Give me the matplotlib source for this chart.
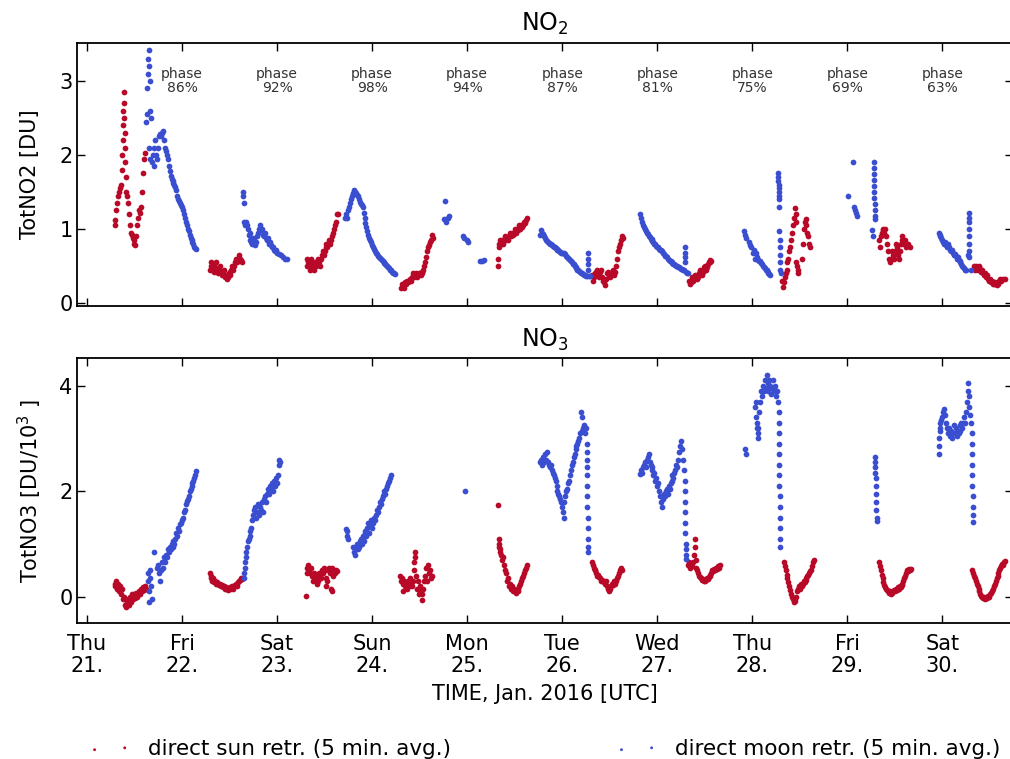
import matplotlib
matplotlib.use("Agg")
import matplotlib.pyplot as plt

#%% data (time in days of Jan. 2016, value)
days = [21, 22, 23, 24, 25, 26, 27, 28, 29, 30]
day_labels = ['Thu\n21.', 'Fri\n22.', 'Sat\n23.', 'Sun\n24.', 'Mon\n25.',
              'Tue\n26.', 'Wed\n27.', 'Thu\n28.', 'Fri\n29.', 'Sat\n30.']
phase_days = [22, 23, 24, 25, 26, 27, 28, 29, 30]
phase_pct = [86, 92, 98, 94, 87, 81, 75, 69, 63]

no2_sun = [
    (21.29, 1.05), (21.30, 1.12), (21.31, 1.25), (21.32, 1.35), (21.33, 1.45), (21.34, 1.50),
    (21.35, 1.55), (21.36, 1.60), (21.37, 1.80), (21.37, 2.00), (21.38, 2.20), (21.38, 2.40),
    (21.38, 2.60), (21.39, 2.85), (21.39, 2.70), (21.39, 2.50), (21.40, 2.30), (21.40, 2.10),
    (21.40, 1.90), (21.41, 1.70), (21.41, 1.50), (21.42, 1.45), (21.43, 1.35), (21.44, 1.20),
    (21.45, 1.05), (21.46, 0.95), (21.47, 0.92), (21.48, 0.88), (21.49, 0.85), (21.50, 0.80),
    (21.51, 0.78), (21.52, 0.90), (21.53, 1.05), (21.54, 1.15), (21.55, 1.25), (21.56, 1.22),
    (21.57, 1.30), (21.58, 1.50), (21.59, 1.75), (21.60, 1.95), (21.61, 2.02),
    (22.29, 0.45), (22.30, 0.55), (22.31, 0.50), (22.32, 0.45), (22.33, 0.50), (22.34, 0.42),
    (22.35, 0.48), (22.36, 0.55), (22.37, 0.45), (22.38, 0.40), (22.39, 0.45), (22.40, 0.50),
    (22.41, 0.42), (22.42, 0.38), (22.43, 0.40), (22.44, 0.45), (22.45, 0.35), (22.46, 0.38),
    (22.47, 0.33), (22.48, 0.35), (22.49, 0.40), (22.50, 0.38), (22.51, 0.42), (22.52, 0.45),
    (22.53, 0.50), (22.54, 0.45), (22.55, 0.50), (22.56, 0.55), (22.57, 0.60), (22.58, 0.55),
    (22.59, 0.60), (22.60, 0.65), (22.61, 0.60), (22.62, 0.58), (22.63, 0.55),
    (23.31, 0.50), (23.32, 0.60), (23.33, 0.55), (23.34, 0.50), (23.35, 0.45), (23.36, 0.60),
    (23.37, 0.55), (23.38, 0.50), (23.39, 0.45), (23.40, 0.55), (23.41, 0.50), (23.42, 0.55),
    (23.43, 0.60), (23.44, 0.55), (23.45, 0.50), (23.46, 0.60), (23.47, 0.65), (23.48, 0.70),
    (23.49, 0.65), (23.50, 0.70), (23.51, 0.75), (23.52, 0.80), (23.53, 0.75), (23.54, 0.80),
    (23.55, 0.85), (23.56, 0.80), (23.57, 0.85), (23.58, 0.90), (23.59, 0.95), (23.60, 1.00),
    (23.61, 1.05), (23.62, 1.10), (23.63, 1.20), (23.64, 1.20),
    (24.30, 0.20), (24.31, 0.25), (24.32, 0.22), (24.33, 0.25), (24.34, 0.20), (24.35, 0.28),
    (24.36, 0.25), (24.37, 0.30), (24.38, 0.28), (24.39, 0.30), (24.40, 0.32), (24.41, 0.30),
    (24.42, 0.35), (24.43, 0.40), (24.44, 0.35), (24.45, 0.38), (24.46, 0.40), (24.47, 0.35),
    (24.48, 0.38), (24.49, 0.40), (24.50, 0.40), (24.51, 0.38), (24.52, 0.42), (24.53, 0.40),
    (24.54, 0.45), (24.55, 0.50), (24.56, 0.55), (24.57, 0.62), (24.58, 0.70), (24.59, 0.75),
    (24.60, 0.78), (24.61, 0.82), (24.62, 0.85), (24.63, 0.92), (24.64, 0.88),
    (25.32, 0.50), (25.32, 0.60), (25.33, 0.75), (25.34, 0.80), (25.35, 0.85), (25.36, 0.80),
    (25.37, 0.85), (25.38, 0.80), (25.39, 0.85), (25.40, 0.90), (25.41, 0.85), (25.42, 0.88),
    (25.43, 0.85), (25.44, 0.90), (25.45, 0.95), (25.46, 0.90), (25.47, 0.95), (25.48, 0.92),
    (25.49, 0.95), (25.50, 1.00), (25.51, 0.95), (25.52, 1.00), (25.53, 0.98), (25.54, 1.00),
    (25.55, 1.05), (25.56, 1.00), (25.57, 1.05), (25.58, 1.02), (25.59, 1.05), (25.60, 1.10),
    (25.61, 1.08), (25.62, 1.12), (25.63, 1.15),
    (26.31, 0.38), (26.32, 0.30), (26.33, 0.35), (26.34, 0.40), (26.35, 0.38), (26.36, 0.42),
    (26.37, 0.45), (26.38, 0.40), (26.39, 0.35), (26.40, 0.42), (26.41, 0.45), (26.42, 0.35),
    (26.43, 0.30), (26.44, 0.28), (26.45, 0.24), (26.46, 0.32), (26.47, 0.40), (26.48, 0.42),
    (26.49, 0.38), (26.50, 0.35), (26.51, 0.38), (26.52, 0.42), (26.53, 0.45), (26.54, 0.40),
    (26.55, 0.38), (26.56, 0.42), (26.57, 0.50), (26.58, 0.60), (26.59, 0.70), (26.60, 0.75),
    (26.61, 0.80), (26.62, 0.85), (26.63, 0.90), (26.64, 0.88),
    (27.33, 0.30), (27.34, 0.25), (27.35, 0.28), (27.36, 0.30), (27.37, 0.35), (27.38, 0.30),
    (27.39, 0.33), (27.40, 0.38), (27.41, 0.35), (27.42, 0.32), (27.43, 0.35), (27.44, 0.40),
    (27.45, 0.45), (27.46, 0.40), (27.47, 0.38), (27.48, 0.42), (27.49, 0.48), (27.50, 0.50),
    (27.51, 0.45), (27.52, 0.48), (27.53, 0.52), (27.54, 0.55), (27.55, 0.58), (27.56, 0.55),
    (27.57, 0.57),
    (28.31, 0.30), (28.32, 0.22), (28.33, 0.28), (28.34, 0.35), (28.35, 0.40), (28.36, 0.45),
    (28.37, 0.55), (28.38, 0.60), (28.39, 0.70), (28.40, 0.75), (28.41, 0.85), (28.42, 0.95),
    (28.43, 1.05), (28.44, 1.15), (28.45, 1.28), (28.46, 1.20), (28.46, 1.10), (28.465, 0.55),
    (28.47, 0.50), (28.48, 0.45), (28.485, 0.40), (28.52, 0.60), (28.53, 0.80), (28.54, 1.00),
    (28.55, 1.10), (28.56, 1.13), (28.57, 1.05), (28.58, 0.95), (28.59, 0.90), (28.60, 0.80),
    (28.61, 0.75),
    (29.33, 0.85), (29.34, 0.75), (29.35, 0.90), (29.36, 0.95), (29.37, 1.00), (29.38, 0.98),
    (29.39, 0.95), (29.40, 1.00), (29.41, 0.90), (29.42, 0.80), (29.43, 0.70), (29.44, 0.60),
    (29.45, 0.55), (29.46, 0.60), (29.47, 0.70), (29.48, 0.65), (29.49, 0.60), (29.50, 0.70),
    (29.51, 0.80), (29.52, 0.75), (29.53, 0.65), (29.54, 0.60), (29.55, 0.70), (29.56, 0.80),
    (29.57, 0.85), (29.58, 0.90), (29.59, 0.85), (29.60, 0.80), (29.61, 0.85), (29.62, 0.75),
    (29.64, 0.80), (29.66, 0.75),
    (30.33, 0.50), (30.34, 0.45), (30.35, 0.50), (30.36, 0.48), (30.37, 0.45), (30.38, 0.50),
    (30.39, 0.48), (30.40, 0.45), (30.41, 0.42), (30.42, 0.45), (30.43, 0.40), (30.44, 0.38),
    (30.45, 0.40), (30.46, 0.35), (30.47, 0.38), (30.48, 0.33), (30.49, 0.30), (30.50, 0.32),
    (30.51, 0.28), (30.52, 0.30), (30.53, 0.26), (30.54, 0.25), (30.55, 0.28), (30.56, 0.25),
    (30.57, 0.24), (30.58, 0.26), (30.59, 0.28), (30.60, 0.30), (30.61, 0.32), (30.62, 0.30),
    (30.64, 0.33), (30.66, 0.32),
]

no2_moon = [
    (21.62, 2.45), (21.63, 2.55), (21.63, 2.90), (21.64, 3.10), (21.64, 3.30), (21.65, 3.42),
    (21.65, 3.20), (21.66, 3.00), (21.66, 2.60), (21.67, 2.50), (21.65, 2.10), (21.66, 1.95),
    (21.68, 1.90), (21.69, 2.00), (21.70, 1.85), (21.71, 2.10), (21.72, 2.20), (21.73, 2.00),
    (21.74, 1.95), (21.75, 2.10), (21.76, 2.25), (21.77, 2.28), (21.78, 2.25), (21.79, 2.30),
    (21.80, 2.32), (21.81, 2.20), (21.82, 2.10), (21.83, 2.05), (21.84, 2.00), (21.85, 1.95),
    (21.86, 1.85), (21.87, 1.78), (21.88, 1.72), (21.89, 1.68), (21.90, 1.65), (21.91, 1.62),
    (21.92, 1.60), (21.93, 1.57), (21.94, 1.52), (21.95, 1.45), (21.96, 1.40), (21.97, 1.38),
    (21.98, 1.35), (21.99, 1.32), (22.00, 1.30), (22.01, 1.25), (22.02, 1.20), (22.03, 1.15),
    (22.04, 1.10), (22.05, 1.05), (22.06, 1.00), (22.07, 0.97), (22.08, 0.92), (22.09, 0.88),
    (22.10, 0.85), (22.11, 0.82), (22.12, 0.79), (22.13, 0.76), (22.14, 0.74), (22.15, 0.73),
    (22.64, 1.45), (22.645, 1.50), (22.65, 1.35), (22.65, 1.10), (22.66, 1.05), (22.67, 1.10),
    (22.68, 1.05), (22.69, 1.00), (22.70, 0.92), (22.71, 0.95), (22.72, 0.85), (22.73, 0.82),
    (22.74, 0.80), (22.75, 0.88), (22.76, 0.85), (22.77, 0.78), (22.78, 0.82), (22.79, 0.90),
    (22.80, 0.95), (22.81, 1.00), (22.82, 1.05), (22.83, 0.98), (22.84, 1.00), (22.85, 0.92),
    (22.86, 0.90), (22.87, 0.95), (22.88, 0.88), (22.89, 0.85), (22.90, 0.88), (22.91, 0.82),
    (22.92, 0.80), (22.93, 0.82), (22.94, 0.78), (22.95, 0.75), (22.96, 0.76), (22.97, 0.72),
    (22.98, 0.70), (22.99, 0.71), (23.00, 0.68), (23.02, 0.66), (23.04, 0.65), (23.06, 0.62),
    (23.08, 0.60), (23.10, 0.59),
    (23.72, 1.15), (23.73, 1.20), (23.74, 1.15), (23.75, 1.25), (23.76, 1.30), (23.77, 1.35),
    (23.78, 1.40), (23.79, 1.45), (23.80, 1.48), (23.81, 1.52), (23.82, 1.50), (23.83, 1.48),
    (23.84, 1.46), (23.85, 1.44), (23.86, 1.40), (23.87, 1.36), (23.88, 1.34), (23.89, 1.32),
    (23.90, 1.30), (23.91, 1.22), (23.92, 1.15), (23.93, 1.08), (23.94, 1.02), (23.95, 0.97),
    (23.96, 0.92), (23.97, 0.88), (23.98, 0.85), (23.99, 0.82), (24.00, 0.78), (24.01, 0.75),
    (24.02, 0.73), (24.03, 0.70), (24.04, 0.68), (24.05, 0.66), (24.06, 0.64), (24.07, 0.62),
    (24.08, 0.61), (24.09, 0.60), (24.10, 0.58), (24.11, 0.56), (24.12, 0.55), (24.13, 0.54),
    (24.14, 0.53), (24.15, 0.51), (24.16, 0.50), (24.17, 0.48), (24.18, 0.47), (24.19, 0.45),
    (24.20, 0.44), (24.21, 0.42), (24.22, 0.41), (24.23, 0.40), (24.24, 0.39),
    (24.77, 1.38), (24.76, 1.13), (24.78, 1.10), (24.80, 1.15), (24.81, 1.18), (24.96, 0.90),
    (24.97, 0.88), (25.00, 0.85), (25.01, 0.83), (25.14, 0.56), (25.16, 0.57), (25.18, 0.58),
    (25.77, 0.92), (25.78, 0.98), (25.79, 0.95), (25.80, 0.93), (25.81, 0.90), (25.82, 0.88),
    (25.83, 0.85), (25.84, 0.84), (25.85, 0.82), (25.86, 0.81), (25.87, 0.80), (25.88, 0.79),
    (25.89, 0.78), (25.90, 0.77), (25.91, 0.76), (25.92, 0.75), (25.93, 0.74), (25.94, 0.73),
    (25.95, 0.72), (25.96, 0.71), (25.97, 0.70), (25.98, 0.69), (25.99, 0.68), (26.00, 0.68),
    (26.01, 0.67), (26.02, 0.67), (26.03, 0.66), (26.04, 0.64), (26.05, 0.62), (26.06, 0.61),
    (26.07, 0.60), (26.08, 0.58), (26.09, 0.56), (26.10, 0.55), (26.11, 0.53), (26.12, 0.52),
    (26.13, 0.50), (26.14, 0.48), (26.15, 0.47), (26.16, 0.45), (26.17, 0.44), (26.18, 0.43),
    (26.19, 0.42), (26.20, 0.41), (26.21, 0.40), (26.22, 0.39), (26.23, 0.38), (26.24, 0.38),
    (26.25, 0.37), (26.26, 0.36), (26.27, 0.45), (26.27, 0.52), (26.27, 0.60), (26.27, 0.68),
    (26.28, 0.36), (26.29, 0.37),
    (26.82, 1.20), (26.83, 1.15), (26.84, 1.10), (26.85, 1.05), (26.86, 1.02), (26.87, 1.00),
    (26.88, 0.97), (26.89, 0.95), (26.90, 0.93), (26.91, 0.91), (26.92, 0.89), (26.93, 0.87),
    (26.94, 0.86), (26.95, 0.84), (26.96, 0.82), (26.97, 0.80), (26.98, 0.79), (26.99, 0.77),
    (27.00, 0.76), (27.01, 0.75), (27.02, 0.73), (27.03, 0.72), (27.04, 0.71), (27.05, 0.70),
    (27.06, 0.68), (27.07, 0.66), (27.08, 0.64), (27.09, 0.63), (27.10, 0.62), (27.11, 0.60),
    (27.12, 0.58), (27.13, 0.57), (27.14, 0.56), (27.15, 0.55), (27.16, 0.54), (27.17, 0.53),
    (27.18, 0.52), (27.19, 0.51), (27.20, 0.50), (27.21, 0.50), (27.22, 0.49), (27.23, 0.48),
    (27.24, 0.47), (27.25, 0.46), (27.26, 0.46), (27.27, 0.45), (27.28, 0.44), (27.29, 0.55),
    (27.29, 0.62), (27.29, 0.68), (27.29, 0.75), (27.30, 0.42), (27.31, 0.40), (27.32, 0.41),
    (27.91, 0.97), (27.92, 0.92), (27.93, 0.88), (27.97, 0.82), (27.98, 0.78), (27.99, 0.75),
    (28.01, 0.68), (28.02, 0.72), (28.03, 0.60), (28.04, 0.68), (28.05, 0.62), (28.06, 0.58),
    (28.07, 0.57), (28.08, 0.56), (28.09, 0.54), (28.10, 0.52), (28.11, 0.50), (28.12, 0.48),
    (28.13, 0.47), (28.14, 0.45), (28.15, 0.44), (28.16, 0.42), (28.17, 0.40), (28.18, 0.39),
    (28.19, 0.38), (28.275, 1.75), (28.275, 1.70), (28.275, 1.65), (28.28, 1.60), (28.28, 1.55),
    (28.28, 1.50), (28.28, 1.45), (28.28, 1.40), (28.28, 1.30), (28.285, 0.97), (28.29, 0.85),
    (28.29, 0.75), (28.29, 0.65), (28.29, 0.55), (28.295, 0.45), (28.30, 0.40),
    (29.01, 1.45), (29.06, 1.90), (29.07, 1.30), (29.08, 1.25), (29.09, 1.22), (29.10, 1.18),
    (29.26, 0.98), (29.265, 0.90), (29.28, 1.90), (29.28, 1.82), (29.28, 1.74), (29.28, 1.66),
    (29.285, 1.58), (29.285, 1.50), (29.285, 1.42), (29.29, 1.34), (29.29, 1.26), (29.29, 1.18),
    (29.29, 1.13),
    (29.96, 0.95), (29.97, 0.92), (29.98, 0.90), (29.99, 0.88), (30.00, 0.85), (30.01, 0.83),
    (30.02, 0.80), (30.03, 0.82), (30.04, 0.78), (30.05, 0.75), (30.06, 0.80), (30.07, 0.76),
    (30.08, 0.72), (30.09, 0.70), (30.10, 0.72), (30.11, 0.68), (30.12, 0.65), (30.13, 0.66),
    (30.14, 0.63), (30.15, 0.60), (30.16, 0.62), (30.17, 0.58), (30.18, 0.56), (30.19, 0.55),
    (30.20, 0.52), (30.21, 0.50), (30.22, 0.48), (30.23, 0.47), (30.24, 0.45), (30.25, 0.44),
    (30.27, 0.65), (30.28, 1.22), (30.28, 1.15), (30.28, 1.10), (30.28, 1.00), (30.285, 0.90),
    (30.285, 0.80), (30.285, 0.70), (30.285, 0.62), (30.30, 0.45),
]

no3_sun = [
    (21.29, 0.25), (21.30, 0.20), (21.31, 0.30), (21.32, 0.15), (21.33, 0.25), (21.34, 0.10),
    (21.35, 0.20), (21.36, 0.05), (21.37, 0.15), (21.38, -0.05), (21.39, 0.00), (21.40, -0.15),
    (21.41, -0.20), (21.42, -0.10), (21.43, -0.05), (21.44, -0.15), (21.45, 0.00), (21.46, -0.10),
    (21.47, 0.05), (21.48, -0.05), (21.49, 0.00), (21.50, 0.05), (21.51, -0.02), (21.52, 0.08),
    (21.53, 0.00), (21.54, 0.05), (21.55, 0.10), (21.56, 0.05), (21.57, 0.15), (21.58, 0.10),
    (21.59, 0.18), (21.60, 0.12), (21.61, 0.20), (21.62, 0.15),
    (22.29, 0.45), (22.30, 0.40), (22.31, 0.35), (22.32, 0.30), (22.33, 0.35), (22.34, 0.28),
    (22.35, 0.30), (22.36, 0.25), (22.37, 0.28), (22.38, 0.25), (22.39, 0.22), (22.40, 0.25),
    (22.41, 0.20), (22.42, 0.22), (22.43, 0.18), (22.44, 0.20), (22.45, 0.15), (22.46, 0.18),
    (22.47, 0.15), (22.48, 0.12), (22.49, 0.15), (22.50, 0.18), (22.51, 0.15), (22.52, 0.18),
    (22.53, 0.20), (22.54, 0.15), (22.55, 0.20), (22.56, 0.22), (22.57, 0.25), (22.58, 0.20),
    (22.59, 0.28), (22.60, 0.30), (22.61, 0.32), (22.62, 0.35), (22.63, 0.33),
    (23.30, 0.02), (23.31, 0.45), (23.32, 0.55), (23.33, 0.60), (23.34, 0.50), (23.35, 0.45),
    (23.36, 0.55), (23.37, 0.40), (23.38, 0.30), (23.39, 0.45), (23.40, 0.35), (23.41, 0.40),
    (23.42, 0.25), (23.43, 0.30), (23.44, 0.45), (23.45, 0.40), (23.46, 0.35), (23.47, 0.50),
    (23.48, 0.45), (23.49, 0.55), (23.50, 0.50), (23.51, 0.35), (23.52, 0.20), (23.53, 0.30),
    (23.54, 0.50), (23.55, 0.55), (23.56, 0.45), (23.57, 0.15), (23.575, 0.10), (23.58, 0.55),
    (23.59, 0.40), (23.60, 0.50), (23.61, 0.45), (23.62, 0.50), (23.63, 0.48),
    (24.29, 0.40), (24.30, 0.30), (24.31, 0.35), (24.32, 0.25), (24.33, 0.10), (24.34, 0.30),
    (24.35, 0.20), (24.36, 0.25), (24.37, 0.15), (24.38, 0.30), (24.39, 0.20), (24.40, 0.35),
    (24.41, 0.25), (24.42, 0.20), (24.43, 0.30), (24.44, 0.50), (24.445, 0.65), (24.45, 0.85),
    (24.455, 0.75), (24.46, 0.40), (24.47, 0.15), (24.48, 0.30), (24.49, 0.05), (24.50, 0.20),
    (24.51, 0.10), (24.52, 0.05), (24.53, -0.06), (24.54, 0.15), (24.55, 0.30), (24.56, 0.40),
    (24.57, 0.55), (24.58, 0.30), (24.59, 0.60), (24.60, 0.45), (24.61, 0.50), (24.62, 0.35),
    (24.63, 0.40),
    (25.32, 1.74), (25.33, 1.10), (25.335, 1.00), (25.34, 0.95), (25.345, 0.90), (25.35, 0.85),
    (25.36, 0.80), (25.37, 0.70), (25.38, 0.75), (25.39, 0.60), (25.40, 0.50), (25.41, 0.45),
    (25.42, 0.30), (25.43, 0.35), (25.44, 0.20), (25.45, 0.25), (25.46, 0.15), (25.47, 0.20),
    (25.48, 0.10), (25.49, 0.15), (25.50, 0.10), (25.51, 0.08), (25.52, 0.12), (25.53, 0.10),
    (25.54, 0.15), (25.55, 0.20), (25.56, 0.25), (25.57, 0.30), (25.58, 0.35), (25.59, 0.40),
    (25.60, 0.45), (25.61, 0.50), (25.62, 0.55), (25.63, 0.60),
    (26.31, 0.65), (26.32, 0.60), (26.33, 0.55), (26.34, 0.50), (26.35, 0.50), (26.36, 0.45),
    (26.37, 0.40), (26.38, 0.42), (26.39, 0.38), (26.40, 0.35), (26.41, 0.30), (26.42, 0.32),
    (26.43, 0.30), (26.44, 0.28), (26.45, 0.25), (26.46, 0.30), (26.47, 0.20), (26.48, 0.15),
    (26.49, 0.10), (26.50, 0.15), (26.51, 0.20), (26.52, 0.25), (26.53, 0.22), (26.54, 0.28),
    (26.55, 0.30), (26.56, 0.25), (26.57, 0.30), (26.58, 0.35), (26.59, 0.40), (26.60, 0.45),
    (26.61, 0.50), (26.62, 0.55), (26.63, 0.50),
    (27.32, 0.60), (27.33, 0.65), (27.34, 0.55), (27.35, 0.60), (27.36, 0.62), (27.37, 0.58),
    (27.38, 0.65), (27.39, 0.80), (27.40, 1.10), (27.40, 0.95), (27.405, 0.70), (27.41, 0.55),
    (27.42, 0.50), (27.43, 0.45), (27.44, 0.40), (27.45, 0.38), (27.46, 0.35), (27.47, 0.32),
    (27.48, 0.33), (27.49, 0.30), (27.50, 0.30), (27.51, 0.32), (27.52, 0.35), (27.53, 0.33),
    (27.54, 0.38), (27.55, 0.40), (27.56, 0.42), (27.57, 0.45), (27.58, 0.50), (27.59, 0.48),
    (27.60, 0.52), (27.61, 0.50), (27.62, 0.55), (27.63, 0.52), (27.64, 0.58), (27.65, 0.55),
    (27.66, 0.60),
    (28.33, 0.65), (28.34, 0.58), (28.35, 0.50), (28.36, 0.42), (28.37, 0.35), (28.38, 0.28),
    (28.39, 0.20), (28.40, 0.12), (28.41, 0.05), (28.42, 0.00), (28.43, -0.05), (28.44, -0.10),
    (28.45, -0.08), (28.46, 0.00), (28.47, 0.10), (28.48, 0.15), (28.49, 0.20), (28.50, 0.15),
    (28.51, 0.25), (28.52, 0.20), (28.53, 0.25), (28.54, 0.30), (28.55, 0.28), (28.56, 0.32),
    (28.57, 0.35), (28.58, 0.40), (28.59, 0.42), (28.60, 0.45), (28.61, 0.48), (28.62, 0.50),
    (28.63, 0.58), (28.64, 0.65), (28.65, 0.70),
    (29.33, 0.65), (29.34, 0.58), (29.35, 0.50), (29.36, 0.42), (29.37, 0.35), (29.38, 0.28),
    (29.39, 0.22), (29.40, 0.18), (29.41, 0.15), (29.42, 0.12), (29.43, 0.10), (29.44, 0.08),
    (29.45, 0.10), (29.46, 0.05), (29.47, 0.08), (29.48, 0.10), (29.49, 0.12), (29.50, 0.10),
    (29.51, 0.15), (29.52, 0.12), (29.53, 0.18), (29.54, 0.15), (29.55, 0.20), (29.56, 0.18),
    (29.57, 0.22), (29.58, 0.25), (29.59, 0.30), (29.60, 0.35), (29.61, 0.40), (29.62, 0.45),
    (29.63, 0.50), (29.64, 0.48), (29.65, 0.52), (29.66, 0.50), (29.67, 0.53),
    (30.31, 0.50), (30.32, 0.45), (30.33, 0.40), (30.34, 0.35), (30.35, 0.30), (30.36, 0.25),
    (30.37, 0.20), (30.38, 0.15), (30.39, 0.10), (30.40, 0.05), (30.41, 0.02), (30.42, 0.00),
    (30.43, -0.02), (30.44, 0.00), (30.45, -0.04), (30.46, 0.00), (30.47, -0.02), (30.48, 0.02),
    (30.49, 0.00), (30.50, 0.05), (30.51, 0.08), (30.52, 0.10), (30.53, 0.15), (30.54, 0.20),
    (30.55, 0.25), (30.56, 0.30), (30.57, 0.35), (30.58, 0.40), (30.59, 0.45), (30.60, 0.50),
    (30.61, 0.55), (30.62, 0.58), (30.63, 0.62), (30.64, 0.60), (30.65, 0.65), (30.66, 0.68),
]

no3_moon = [
    (21.64, 0.30), (21.645, 0.45), (21.65, 0.10), (21.655, -0.10), (21.66, 0.50), (21.665, 0.35),
    (21.67, 0.20), (21.68, -0.05), (21.71, 0.85), (21.74, 0.55), (21.75, 0.60), (21.76, 0.45),
    (21.77, 0.30), (21.78, 0.50), (21.79, 0.65), (21.80, 0.55), (21.81, 0.75), (21.82, 0.65),
    (21.83, 0.80), (21.84, 0.75), (21.85, 0.90), (21.86, 0.85), (21.87, 0.95), (21.88, 0.90),
    (21.89, 1.00), (21.90, 0.95), (21.91, 1.05), (21.92, 1.00), (21.93, 1.10), (21.94, 1.20),
    (21.95, 1.15), (21.96, 1.30), (21.97, 1.25), (21.98, 1.38), (21.99, 1.40), (22.00, 1.45),
    (22.01, 1.50), (22.02, 1.60), (22.03, 1.65), (22.04, 1.75), (22.05, 1.82), (22.06, 1.85),
    (22.07, 1.90), (22.08, 2.00), (22.09, 2.05), (22.10, 2.10), (22.11, 2.15), (22.12, 2.20),
    (22.13, 2.25), (22.14, 2.30), (22.15, 2.38),
    (22.65, 0.35), (22.655, 0.45), (22.66, 0.55), (22.665, 0.65), (22.67, 0.75), (22.675, 0.85),
    (22.68, 0.95), (22.69, 1.05), (22.70, 1.10), (22.71, 1.15), (22.72, 1.25), (22.73, 1.30),
    (22.74, 1.45), (22.75, 1.55), (22.76, 1.65), (22.77, 1.70), (22.78, 1.50), (22.79, 1.60),
    (22.80, 1.75), (22.81, 1.55), (22.82, 1.70), (22.83, 1.65), (22.84, 1.80), (22.85, 1.60),
    (22.86, 1.85), (22.87, 1.90), (22.88, 1.80), (22.89, 1.95), (22.90, 2.05), (22.91, 1.95),
    (22.92, 2.00), (22.93, 2.10), (22.94, 2.05), (22.95, 2.15), (22.96, 2.00), (22.97, 2.20),
    (22.98, 2.10), (22.99, 2.25), (23.00, 2.15), (23.01, 2.30), (23.02, 2.50), (23.025, 2.60),
    (23.03, 2.55),
    (23.73, 1.29), (23.735, 1.25), (23.74, 1.15), (23.75, 1.10), (23.80, 0.95), (23.81, 0.85),
    (23.82, 0.80), (23.83, 0.90), (23.84, 1.00), (23.85, 0.90), (23.86, 0.95), (23.87, 1.05),
    (23.88, 1.10), (23.89, 1.00), (23.90, 1.15), (23.91, 1.05), (23.92, 1.20), (23.93, 1.25),
    (23.94, 1.15), (23.95, 1.30), (23.96, 1.40), (23.97, 1.20), (23.98, 1.35), (23.99, 1.45),
    (24.00, 1.30), (24.01, 1.40), (24.02, 1.50), (24.03, 1.45), (24.04, 1.55), (24.05, 1.65),
    (24.06, 1.60), (24.07, 1.70), (24.08, 1.80), (24.09, 1.75), (24.10, 1.85), (24.11, 1.90),
    (24.12, 1.95), (24.13, 2.00), (24.14, 1.95), (24.15, 2.05), (24.16, 2.10), (24.17, 2.15),
    (24.18, 2.20), (24.19, 2.25), (24.20, 2.30),
    (24.98, 2.01),
    (25.77, 2.55), (25.78, 2.60), (25.79, 2.50), (25.80, 2.65), (25.81, 2.55), (25.82, 2.70),
    (25.83, 2.60), (25.84, 2.75), (25.85, 2.55), (25.86, 2.50), (25.87, 2.45), (25.88, 2.50),
    (25.89, 2.40), (25.90, 2.35), (25.91, 2.30), (25.92, 2.25), (25.93, 2.20), (25.94, 2.10),
    (25.95, 2.00), (25.96, 1.95), (25.97, 1.90), (25.98, 1.85), (25.99, 1.80), (26.00, 1.70),
    (26.01, 1.60), (26.015, 1.50), (26.02, 1.80), (26.03, 1.90), (26.04, 2.00), (26.05, 2.05),
    (26.06, 2.15), (26.07, 2.20), (26.08, 2.30), (26.09, 2.40), (26.10, 2.50), (26.11, 2.55),
    (26.12, 2.65), (26.13, 2.70), (26.14, 2.80), (26.15, 2.85), (26.16, 2.90), (26.17, 2.95),
    (26.18, 3.00), (26.19, 3.10), (26.20, 3.50), (26.205, 3.40), (26.21, 3.15), (26.22, 3.20),
    (26.23, 3.25), (26.24, 3.10), (26.25, 3.20), (26.26, 2.90), (26.26, 2.75), (26.26, 2.60),
    (26.26, 2.45), (26.26, 2.30), (26.265, 2.10), (26.265, 1.90), (26.265, 1.70), (26.27, 1.50),
    (26.27, 1.30), (26.27, 1.10), (26.27, 0.95), (26.27, 0.85),
    (26.82, 2.33), (26.83, 2.40), (26.84, 2.35), (26.85, 2.45), (26.86, 2.50), (26.87, 2.55),
    (26.88, 2.45), (26.89, 2.60), (26.90, 2.65), (26.91, 2.70), (26.92, 2.55), (26.93, 2.50),
    (26.94, 2.40), (26.95, 2.45), (26.96, 2.30), (26.97, 2.35), (26.98, 2.20), (26.99, 2.25),
    (27.00, 2.10), (27.01, 2.15), (27.02, 2.00), (27.03, 1.90), (27.04, 1.80), (27.05, 1.70),
    (27.06, 1.85), (27.07, 1.95), (27.08, 1.90), (27.09, 2.00), (27.10, 2.05), (27.11, 1.95),
    (27.12, 2.10), (27.13, 2.05), (27.14, 2.15), (27.15, 2.20), (27.16, 2.30), (27.17, 2.25),
    (27.18, 2.35), (27.19, 2.40), (27.20, 2.50), (27.21, 2.45), (27.22, 2.60), (27.23, 2.75),
    (27.24, 2.85), (27.25, 2.95), (27.26, 2.80), (27.27, 2.60), (27.28, 2.40), (27.29, 2.20),
    (27.29, 2.00), (27.29, 1.80), (27.295, 1.60), (27.295, 1.40), (27.295, 1.20), (27.30, 1.00),
    (27.30, 0.90), (27.30, 0.80), (27.305, 0.72),
    (27.925, 2.80), (27.93, 2.70), (28.03, 3.60), (28.035, 3.70), (28.04, 3.40), (28.045, 3.20),
    (28.05, 3.30), (28.055, 3.10), (28.06, 3.00), (28.065, 3.20), (28.07, 3.50), (28.08, 3.70),
    (28.09, 3.90), (28.10, 3.80), (28.11, 4.00), (28.12, 3.90), (28.13, 4.10), (28.14, 3.95),
    (28.15, 4.20), (28.16, 4.05), (28.17, 3.90), (28.18, 4.10), (28.19, 4.00), (28.20, 3.85),
    (28.21, 3.95), (28.22, 4.10), (28.23, 3.90), (28.24, 4.00), (28.25, 3.80), (28.26, 3.90),
    (28.27, 3.70), (28.28, 3.50), (28.28, 3.30), (28.28, 3.10), (28.28, 2.90), (28.285, 2.70),
    (28.285, 2.50), (28.285, 2.30), (28.285, 2.10), (28.29, 1.90), (28.29, 1.70), (28.29, 1.50),
    (28.29, 1.30), (28.295, 1.10), (28.295, 0.95),
    (29.29, 2.65), (29.29, 2.55), (29.295, 2.45), (29.295, 2.35), (29.30, 2.25), (29.30, 2.10),
    (29.30, 1.95), (29.305, 1.80), (29.305, 1.65), (29.31, 1.50), (29.31, 1.44),
    (29.96, 2.70), (29.96, 2.85), (29.965, 3.00), (29.97, 3.15), (29.975, 3.30), (29.98, 3.20),
    (29.99, 3.35), (30.00, 3.40), (30.01, 3.50), (30.02, 3.55), (30.03, 3.45), (30.04, 3.30),
    (30.05, 3.20), (30.06, 3.10), (30.07, 3.20), (30.08, 3.05), (30.09, 3.15), (30.10, 3.00),
    (30.11, 3.10), (30.12, 3.25), (30.13, 3.10), (30.14, 3.20), (30.15, 3.05), (30.16, 3.15),
    (30.17, 3.10), (30.18, 3.25), (30.19, 3.15), (30.20, 3.30), (30.21, 3.20), (30.22, 3.30),
    (30.23, 3.40), (30.24, 3.30), (30.25, 3.50), (30.26, 3.70), (30.265, 3.90), (30.27, 4.05),
    (30.275, 3.80), (30.28, 3.60), (30.29, 3.45), (30.30, 3.30), (30.31, 3.10), (30.31, 2.90),
    (30.31, 2.70), (30.315, 2.50), (30.315, 2.30), (30.315, 2.10), (30.32, 1.90), (30.32, 1.70),
    (30.32, 1.55), (30.32, 1.42),
]

sun_col = '#b80a28'
moon_col = '#3a4ed0'

#%% figure
fig = plt.figure(figsize=(10.1, 7.59), dpi=100)
ax1 = fig.add_axes([0.0767, 0.597, 0.926, 0.346])
ax2 = fig.add_axes([0.0767, 0.179, 0.926, 0.349])

for ax, sun, moon in [(ax1, no2_sun, no2_moon), (ax2, no3_sun, no3_moon)]:
    st, sv = zip(*sun)
    mt, mv = zip(*moon)
    ax.scatter(st, sv, s=17, color=sun_col, linewidths=0,
               label='direct sun retr. (5 min. avg.)')
    ax.scatter(mt, mv, s=17, color=moon_col, linewidths=0,
               label='direct moon retr. (5 min. avg.)')
    ax.set_xlim(20.9, 30.74)
    ax.set_xticks(days)
    ax.tick_params(direction='in', top=True, right=True, length=6, width=1,
                   labelsize=15)
    for sp in ax.spines.values():
        sp.set_linewidth(1.3)

ax1.set_ylim(-0.04, 3.51)
ax1.set_yticks([0, 1, 2, 3])
ax1.set_xticklabels([])
ax1.set_ylabel('TotNO2 [DU]', fontsize=15, labelpad=14)
ax1.set_title('NO$_2$', fontsize=17, pad=9)
for d, p in zip(phase_days, phase_pct):
    ax1.text(d, 3.0, 'phase\n%d%%' % p, ha='center', va='center',
             fontsize=10, color='#333333', linespacing=1.0)

ax2.set_ylim(-0.5, 4.52)
ax2.set_yticks([0, 2, 4])
ax2.set_xticklabels(day_labels, linespacing=1.1)
ax2.tick_params(axis='x', pad=8)
ax2.set_ylabel('TotNO3 [DU/10$^3$ ]', fontsize=15, labelpad=11)
ax2.set_title('NO$_3$', fontsize=17, pad=8)
ax2.set_xlabel('TIME, Jan. 2016 [UTC]', fontsize=15, labelpad=6)

h, l = ax2.get_legend_handles_labels()
fig.legend(h, l, loc='lower center', ncol=2, frameon=False, fontsize=15.5,
           scatterpoints=2, markerscale=0.5, columnspacing=7.6,
           handlelength=2.0, handletextpad=0.8,
           bbox_to_anchor=(0.539, -0.026))

fig.savefig('out.png', dpi=100)
